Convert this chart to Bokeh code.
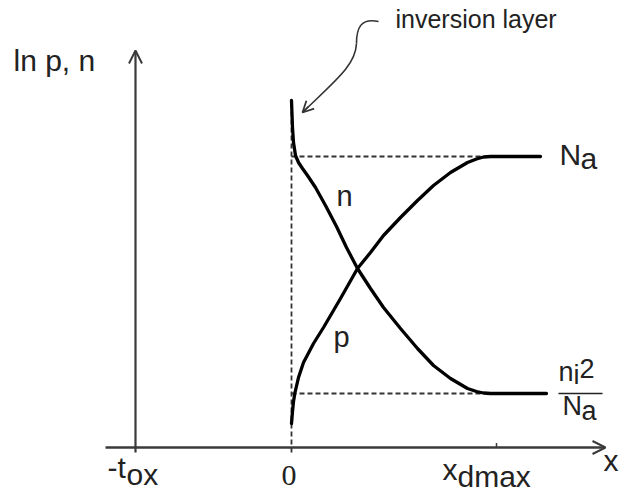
from bokeh.plotting import figure
from bokeh.models import Label, Arrow, OpenHead, Range1d
from bokeh.embed import file_html
from bokeh.resources import INLINE

# ---- data (arbitrary units: x = depth, y = ln of carrier density) ----
x_tox = -15.6           # -t_ox
x_zero = 0.0
x_dmax = 20.5
ln_Na = 29.1            # ln Na
ln_ni2_Na = 5.4         # ln(ni^2/Na)

tick_labels = ["-tox", "0", "xdmax"]

n_x = [0.0, 0.1, 0.2, 0.4, 0.7, 1.1, 1.6, 2.4, 3.4, 4.5, 5.5, 6.6, 7.9, 9.2, 10.9,
       12.6, 14.2, 15.9, 17.6, 18.5, 19.2, 19.9, 25.5]
n_y = [34.7, 32.0, 30.5, 29.2, 28.5, 27.9, 27.2, 26.0, 24.2, 22.1, 20.0, 17.9, 15.9, 14.0, 11.9,
       9.9, 8.2, 6.9, 5.9, 5.6, 5.45, 5.4, 5.4]

p_x = [0.0, 0.1, 0.2, 0.35, 0.7, 1.2, 2.2, 3.2, 4.9, 6.6, 7.9, 9.2, 10.9, 12.6, 14.2,
       15.9, 17.6, 18.5, 19.2, 19.9, 24.9]
p_y = [2.4, 3.6, 4.6, 5.5, 7.0, 8.5, 10.4, 12.0, 14.9, 17.9, 19.5, 21.2, 23.0, 24.7, 26.2,
       27.5, 28.5, 28.85, 29.05, 29.1, 29.1]

W, H = 620, 495
p = figure(width=W, height=H, output_backend="svg", toolbar_location=None,
           x_axis_type=None, y_axis_type=None, min_border=0,
           x_range=Range1d(-29.1, 32.9), y_range=Range1d(-4.8, 44.7))
p.grid.visible = False
p.outline_line_color = None
p.background_fill_color = "white"
p.border_fill_color = "white"

axis_col = "#3a3a3a"
dash_col = "#333333"

# axes
p.add_layout(Arrow(end=OpenHead(size=13, line_width=2, line_color=axis_col),
                   x_start=x_tox, y_start=-0.5, x_end=x_tox, y_end=39.7,
                   line_width=2.2, line_color=axis_col))
p.add_layout(Arrow(end=OpenHead(size=13, line_width=2, line_color=axis_col),
                   x_start=-18.6, y_start=0, x_end=31.4, y_end=0,
                   line_width=2.6, line_color=axis_col))
# small tick at xdmax
p.segment(x0=[x_dmax], y0=[0], x1=[x_dmax], y1=[0.45], line_width=1.5, line_color=axis_col)

# dashed reference lines
p.segment(x0=[x_zero], y0=[-0.5], x1=[x_zero], y1=[n_y[0]],
          line_width=1.8, line_color=dash_col, line_dash="5 3")
p.segment(x0=[x_zero, x_zero], y0=[ln_Na, ln_ni2_Na], x1=[19.2, 19.2], y1=[ln_Na, ln_ni2_Na],
          line_width=1.8, line_color=dash_col, line_dash="5 3")

# carrier curves
p.line(n_x, n_y, line_width=3.3, line_color="black", line_join="round", line_cap="round")
p.line(p_x, p_y, line_width=3.3, line_color="black", line_join="round", line_cap="round")

# inversion layer pointer
p.bezier(x0=[8.7], y0=[42.6], x1=[6.5], y1=[40.4],
         cx0=[6.9], cy0=[43.0], cx1=[6.5], cy1=[41.9],
         line_width=1.6, line_color="#333333")
p.bezier(x0=[6.5], y0=[40.4], x1=[1.1], y1=[33.5],
         cx0=[6.4], cy0=[38.2], cx1=[4.4], cy1=[36.7],
         line_width=1.6, line_color="#333333")
p.add_layout(Arrow(end=OpenHead(size=11, line_width=1.8, line_color="#333333"),
                   x_start=1.7, y_start=34.1, x_end=1.1, y_end=33.5,
                   line_width=1.6, line_color="#333333"))

sans = "Liberation Sans"
txt = "#222222"

def lab(x, y, t, size, font=sans, align="left"):
    px = int(size.replace("px", ""))
    p.add_layout(Label(x=x, y=y + 0.036 * px, text=t, text_font=font, text_font_size=size,
                       text_color=txt, text_align=align, text_baseline="alphabetic"))

lab(-27.8, 37.6, "ln p, n", "30px")
lab(10.4, 42.0, "inversion layer", "25px")
lab(4.5, 24.1, "n", "29px")
lab(4.2, 10.0, "p", "29px")
# Na
lab(26.8, 28.2, "N", "30px")
lab(28.9, 27.8, "a", "30px")
# ni^2 / Na
lab(26.7, 6.6, "n", "27px")
lab(28.2, 6.3, "i", "27px")
lab(28.8, 6.9, "2", "27px")
p.segment(x0=[26.7], y0=[ln_ni2_Na], x1=[31.1], y1=[ln_ni2_Na], line_width=1.6, line_color=txt)
lab(27.1, 3.2, "N", "27px")
lab(29.0, 2.7, "a", "27px")
# tick labels
lab(-18.4, -3.1, "-t", "30px")
lab(-16.5, -3.8, "ox", "30px")
lab(-0.25, -3.9, tick_labels[1], "30px", font="Liberation Serif", align="center")
lab(15.1, -3.3, "x", "30px")
lab(16.6, -4.0, "dmax", "30px")
# axis label
lab(31.2, -2.4, "x", "30px")

open("out.html", "w").write(file_html(p, INLINE))
